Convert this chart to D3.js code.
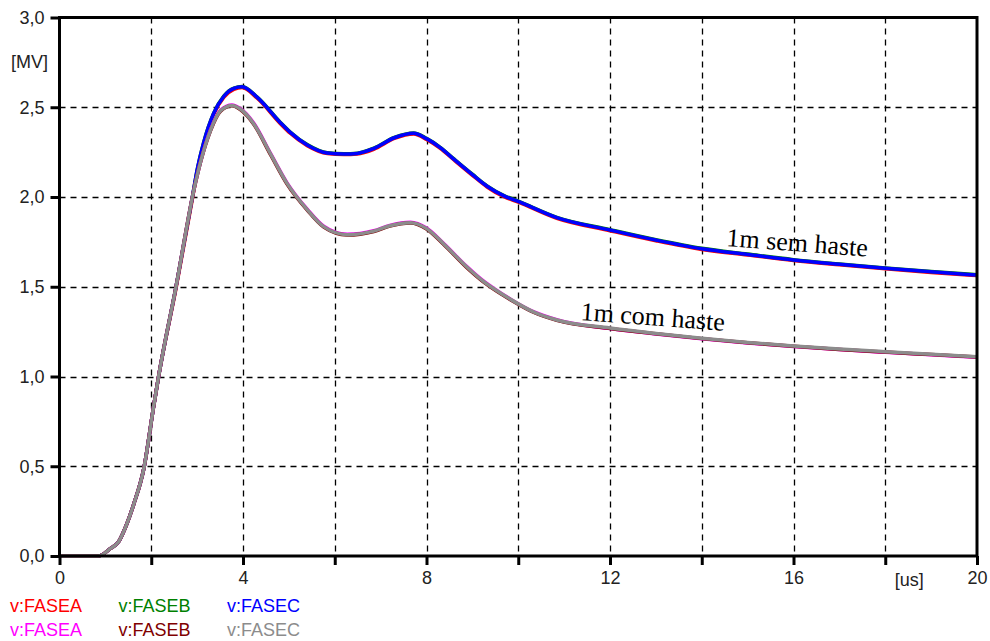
<!DOCTYPE html>
<html>
<head>
<meta charset="utf-8">
<script src="https://cdn.jsdelivr.net/npm/d3@7"></script>
<style>
  body { margin: 0; background: #fff; }
  svg { display: block; }
  .tick text { font-family: "Liberation Sans", Arial, sans-serif; font-size: 18px; fill: #222; }
  .legend text { font-family: "Liberation Sans", Arial, sans-serif; font-size: 18px; }
  .note { font-family: "Liberation Serif", "Times New Roman", serif; font-size: 26px; fill: #000; }
</style>
</head>
<body>
<div id="chart"></div>
<script>
// time axis [us], values [MV]
var tSem = [0, 0.85, 1.1, 1.29, 1.47, 1.62, 1.84, 2.05, 2.16, 2.54, 2.89, 3.0, 3.14, 3.36, 3.58, 3.8, 3.98, 4.31, 4.81, 5.03, 5.4, 5.84, 6.2, 6.49, 6.85, 7.3, 7.72, 8.0, 8.3, 8.6, 9.0, 9.32, 9.7, 10.0, 10.84, 12, 13, 14, 15, 16, 17, 18, 19, 20];
var semA = [0, 0, 0.04, 0.08, 0.18, 0.29, 0.49, 0.83, 1.0, 1.49, 1.98, 2.14, 2.29, 2.46, 2.555, 2.6, 2.61, 2.55, 2.41, 2.355, 2.286, 2.242, 2.237, 2.24, 2.266, 2.326, 2.351, 2.321, 2.271, 2.206, 2.121, 2.056, 2.0, 1.971, 1.881, 1.812, 1.756, 1.708, 1.677, 1.646, 1.622, 1.6, 1.58, 1.562];
var semB = [0, 0, 0.04, 0.08, 0.18, 0.29, 0.49, 0.83, 1.0, 1.5, 1.99, 2.15, 2.302, 2.467, 2.562, 2.607, 2.615, 2.556, 2.417, 2.362, 2.292, 2.246, 2.241, 2.244, 2.272, 2.332, 2.357, 2.327, 2.277, 2.212, 2.127, 2.062, 2.007, 1.977, 1.887, 1.818, 1.762, 1.714, 1.682, 1.651, 1.627, 1.605, 1.585, 1.567];
var semC = [0, 0, 0.04, 0.08, 0.18, 0.29, 0.49, 0.83, 1.0, 1.5, 1.99, 2.15, 2.30, 2.465, 2.56, 2.605, 2.614, 2.555, 2.415, 2.36, 2.29, 2.245, 2.24, 2.243, 2.27, 2.33, 2.355, 2.325, 2.275, 2.21, 2.125, 2.06, 2.005, 1.975, 1.885, 1.816, 1.76, 1.712, 1.68, 1.649, 1.625, 1.603, 1.583, 1.565];

var tCom = [0, 0.85, 1.1, 1.29, 1.47, 1.62, 1.84, 2.05, 2.16, 2.54, 2.93, 3.07, 3.29, 3.51, 3.76, 3.94, 4.23, 4.6, 4.96, 5.4, 5.76, 6.27, 6.85, 7.2, 7.65, 8.0, 8.37, 8.88, 9.24, 9.46, 9.83, 10.33, 10.84, 12, 13, 14, 15, 16, 17, 18, 19, 20];
var comA = [0, 0, 0.04, 0.08, 0.18, 0.29, 0.49, 0.83, 1.0, 1.5, 2.04, 2.19, 2.372, 2.483, 2.513, 2.493, 2.413, 2.243, 2.079, 1.932, 1.837, 1.792, 1.812, 1.842, 1.859, 1.827, 1.742, 1.612, 1.532, 1.492, 1.431, 1.361, 1.316, 1.267, 1.237, 1.21, 1.187, 1.167, 1.15, 1.135, 1.121, 1.107];
var comB = [0, 0, 0.04, 0.08, 0.18, 0.29, 0.49, 0.83, 1.0, 1.5, 2.04, 2.19, 2.368, 2.478, 2.508, 2.487, 2.407, 2.236, 2.072, 1.927, 1.832, 1.788, 1.808, 1.838, 1.855, 1.822, 1.737, 1.606, 1.527, 1.487, 1.428, 1.358, 1.313, 1.268, 1.238, 1.211, 1.188, 1.168, 1.151, 1.136, 1.122, 1.108];
var comC = [0, 0, 0.04, 0.08, 0.18, 0.29, 0.49, 0.83, 1.0, 1.5, 2.04, 2.19, 2.37, 2.48, 2.51, 2.49, 2.41, 2.24, 2.076, 1.93, 1.835, 1.79, 1.81, 1.84, 1.857, 1.825, 1.74, 1.61, 1.53, 1.49, 1.43, 1.36, 1.315, 1.27, 1.24, 1.213, 1.19, 1.17, 1.153, 1.138, 1.124, 1.11];

var xTicks = [0, 2, 4, 6, 8, 10, 12, 14, 16, 18, 20];
var xLabels = [0, 4, 8, 12, 16, 20];
var yTicks = [0, 0.5, 1.0, 1.5, 2.0, 2.5, 3.0];

var series = [
    { name: "v:FASEA", t: tSem, v: semA, color: "#ff0000" },
    { name: "v:FASEB", t: tSem, v: semB, color: "#008000" },
    { name: "v:FASEC", t: tSem, v: semC, color: "#0000ff" },
    { name: "v:FASEA", t: tCom, v: comA, color: "#ff00ff" },
    { name: "v:FASEB", t: tCom, v: comB, color: "#800000" },
    { name: "v:FASEC", t: tCom, v: comC, color: "#8c8c8c" }
];

var width = 990,
    height = 641,
    margin = { top: 17.5, right: 13, bottom: 85, left: 59.5 };

var svg = d3.select("#chart").append("svg")
    .attr("width", width)
    .attr("height", height);

var x = d3.scaleLinear().domain([0, 20]).range([margin.left, width - margin.right]);
var y = d3.scaleLinear().domain([0, 3]).range([height - margin.bottom, margin.top]);

// grid
var grid = svg.append("g").attr("class", "grid");
grid.selectAll("line.vg")
    .data(xTicks.filter(function(d) { return d > 0 && d < 20; }))
    .enter().append("line")
    .attr("x1", function(d) { return Math.round(x(d)) + 0.5; })
    .attr("x2", function(d) { return Math.round(x(d)) + 0.5; })
    .attr("y1", y(3)).attr("y2", y(0))
    .attr("stroke", "#000").attr("stroke-width", 1.3)
    .attr("stroke-dasharray", "6,5");
grid.selectAll("line.hg")
    .data(yTicks.filter(function(d) { return d > 0 && d < 3; }))
    .enter().append("line")
    .attr("y1", function(d) { return Math.round(y(d)) + 0.5; })
    .attr("y2", function(d) { return Math.round(y(d)) + 0.5; })
    .attr("x1", x(0)).attr("x2", x(20))
    .attr("stroke", "#000").attr("stroke-width", 1.3)
    .attr("stroke-dasharray", "6,5");

// curves
var line = d3.line()
    .x(function(d) { return x(d[0]); })
    .y(function(d) { return y(d[1]); })
    .curve(d3.curveMonotoneX);

svg.append("g").selectAll("path")
    .data(series)
    .enter().append("path")
    .attr("fill", "none")
    .attr("stroke", function(d) { return d.color; })
    .attr("stroke-width", 3.5)
    .attr("stroke-linejoin", "round")
    .attr("d", function(d) { return line(d.t.map(function(t, i) { return [t, d.v[i]]; })); });

// frame
svg.append("rect")
    .attr("x", x(0)).attr("y", y(3))
    .attr("width", x(20) - x(0)).attr("height", y(0) - y(3))
    .attr("fill", "none").attr("stroke", "#000").attr("stroke-width", 3);

// axes
var fmt = function(d) { return d3.format(".1f")(d).replace(".", ","); };

var xAxis = svg.append("g")
    .attr("transform", "translate(0," + y(0) + ")")
    .call(d3.axisBottom(x).tickValues(xTicks).tickSize(9).tickPadding(6)
        .tickFormat(function(d) { return xLabels.indexOf(d) >= 0 ? d : ""; }));
xAxis.select(".domain").remove();
xAxis.selectAll(".tick line").attr("stroke", "#000").attr("stroke-width", 3);

xAxis.append("text")
    .attr("x", x(18) + 24).attr("y", 30)
    .attr("text-anchor", "middle")
    .style("font-family", "Liberation Sans, Arial, sans-serif")
    .style("font-size", "18px")
    .attr("fill", "#222")
    .text("[us]");

var yAxis = svg.append("g")
    .attr("transform", "translate(" + x(0) + ",0)")
    .call(d3.axisLeft(y).tickValues(yTicks).tickSize(9).tickPadding(6).tickFormat(fmt));
yAxis.select(".domain").remove();
yAxis.selectAll(".tick line").attr("stroke", "#000").attr("stroke-width", 3);

svg.append("text")
    .attr("x", 11).attr("y", y(2.75) + 6)
    .style("font-family", "Liberation Sans, Arial, sans-serif")
    .style("font-size", "18px")
    .attr("fill", "#222")
    .text("[MV]");

// annotations
svg.append("text").attr("class", "note")
    .attr("transform", "translate(" + x(14.53) + "," + y(1.727) + ") rotate(4.3)")
    .text("1m sem haste");
svg.append("text").attr("class", "note")
    .attr("transform", "translate(" + x(11.35) + "," + y(1.315) + ") rotate(4.3)")
    .text("1m com haste");

// legend
var legend = svg.append("g").attr("class", "legend");
legend.selectAll("text")
    .data(series)
    .enter().append("text")
    .attr("x", function(d, i) { return 10 + (i % 3) * 108.5; })
    .attr("y", function(d, i) { return i < 3 ? 612 : 636; })
    .attr("fill", function(d) { return d.color; })
    .text(function(d) { return d.name; });
</script>
</body>
</html>
